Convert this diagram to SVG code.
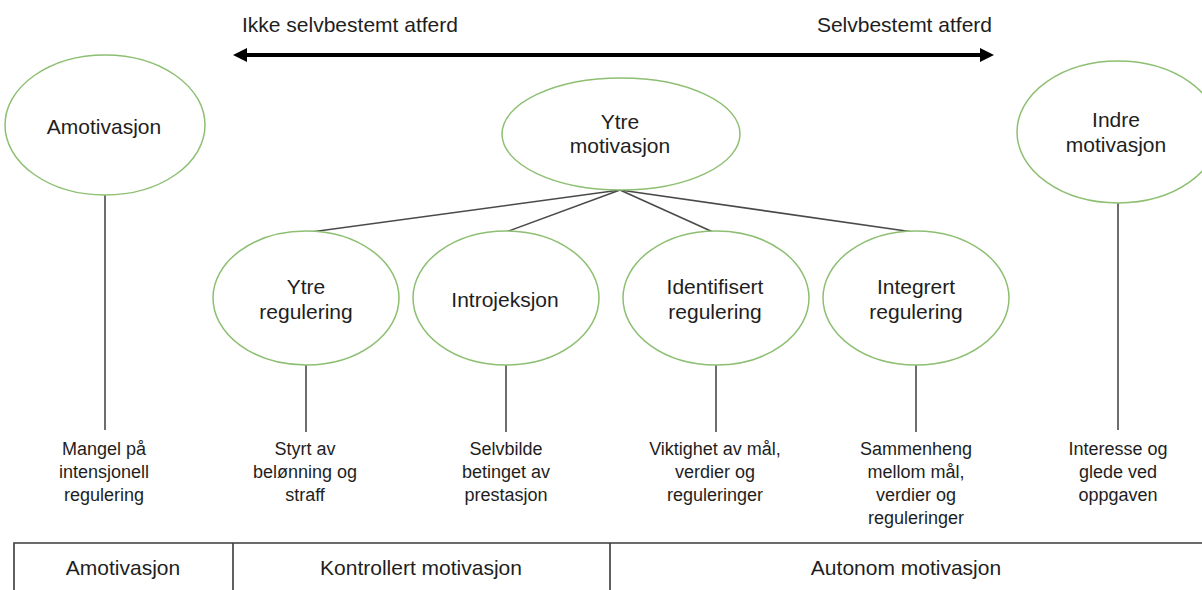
<svg xmlns="http://www.w3.org/2000/svg" width="1202" height="590" viewBox="0 0 1202 590">
<style>
text{font-family:"Liberation Sans",Arial,Helvetica,sans-serif;fill:#1e1e1e;text-anchor:middle}
.n{font-size:21px}
.d{font-size:18px}
.t{font-size:21px;text-anchor:start}
.el{fill:#fff;stroke:#8dbf72;stroke-width:1.5}
.c{stroke:#4a4a4a;stroke-width:1.6;fill:none}
.tb{stroke:#3a3a3a;stroke-width:1.6;fill:none}
</style>
<defs>
<marker id="ah" markerUnits="userSpaceOnUse" markerWidth="14" markerHeight="14" viewBox="0 0 14 14" refX="0" refY="7" orient="auto-start-reverse">
<path d="M0,0 L14,7 L0,14 z" fill="#000"/>
</marker>
</defs>
<rect width="1202" height="590" fill="#fff"/>
<g id="scale">
<text class="t" x="242" y="32">Ikke selvbestemt atferd</text>
<text class="t" x="992" y="32" style="text-anchor:end">Selvbestemt atferd</text>
<line x1="247" y1="55" x2="980" y2="55" stroke="#000" stroke-width="4" marker-start="url(#ah)" marker-end="url(#ah)"/>
</g>
<g id="connectors">
<line class="c" x1="620" y1="190" x2="311" y2="232"/>
<line class="c" x1="620" y1="190" x2="506" y2="232"/>
<line class="c" x1="620" y1="190" x2="713" y2="232"/>
<line class="c" x1="620" y1="190" x2="913" y2="232"/>
<line class="c" x1="105" y1="195" x2="105" y2="430"/>
<line class="c" x1="306" y1="365" x2="306" y2="432"/>
<line class="c" x1="506" y1="365" x2="506" y2="432"/>
<line class="c" x1="716" y1="365" x2="716" y2="432"/>
<line class="c" x1="916" y1="365" x2="916" y2="432"/>
<line class="c" x1="1118" y1="203" x2="1118" y2="430"/>
</g>
<g id="amotivasjon">
<ellipse class="el" cx="105" cy="125" rx="100" ry="70"/>
<text class="n" x="104" y="134">Amotivasjon</text>
</g>
<g id="ytre-motivasjon">
<ellipse class="el" cx="621" cy="134" rx="119" ry="56"/>
<text class="n" x="620" y="129">Ytre</text>
<text class="n" x="620" y="153">motivasjon</text>
</g>
<g id="indre-motivasjon">
<ellipse class="el" cx="1118" cy="132" rx="101" ry="71"/>
<text class="n" x="1116" y="127">Indre</text>
<text class="n" x="1116" y="152">motivasjon</text>
</g>
<g id="ytre-regulering">
<ellipse class="el" cx="306" cy="298" rx="93" ry="67"/>
<text class="n" x="306" y="294">Ytre</text>
<text class="n" x="306" y="319">regulering</text>
</g>
<g id="introjeksjon">
<ellipse class="el" cx="506" cy="298" rx="93" ry="67"/>
<text class="n" x="505" y="307">Introjeksjon</text>
</g>
<g id="identifisert-regulering">
<ellipse class="el" cx="716" cy="298" rx="93" ry="67"/>
<text class="n" x="715" y="294">Identifisert</text>
<text class="n" x="715" y="319">regulering</text>
</g>
<g id="integrert-regulering">
<ellipse class="el" cx="916" cy="298" rx="93" ry="67"/>
<text class="n" x="916" y="294">Integrert</text>
<text class="n" x="916" y="319">regulering</text>
</g>
<g id="desc-amotivasjon">
<text class="d" x="104" y="455">Mangel på</text>
<text class="d" x="104" y="478">intensjonell</text>
<text class="d" x="104" y="501">regulering</text>
</g>
<g id="desc-ytre">
<text class="d" x="305" y="455">Styrt av</text>
<text class="d" x="305" y="478">belønning og</text>
<text class="d" x="305" y="501">straff</text>
</g>
<g id="desc-introjeksjon">
<text class="d" x="506" y="455">Selvbilde</text>
<text class="d" x="506" y="478">betinget av</text>
<text class="d" x="506" y="501">prestasjon</text>
</g>
<g id="desc-identifisert">
<text class="d" x="715" y="455">Viktighet av mål,</text>
<text class="d" x="715" y="478">verdier og</text>
<text class="d" x="715" y="501">reguleringer</text>
</g>
<g id="desc-integrert">
<text class="d" x="916" y="455">Sammenheng</text>
<text class="d" x="916" y="478">mellom mål,</text>
<text class="d" x="916" y="501">verdier og</text>
<text class="d" x="916" y="524">reguleringer</text>
</g>
<g id="desc-indre">
<text class="d" x="1118" y="455">Interesse og</text>
<text class="d" x="1118" y="478">glede ved</text>
<text class="d" x="1118" y="501">oppgaven</text>
</g>
<g id="table">
<path class="tb" d="M14,595 V543 H1205 M233,543 V595 M610,543 V595"/>
<text class="n" x="123" y="575">Amotivasjon</text>
<text class="n" x="421" y="575">Kontrollert motivasjon</text>
<text class="n" x="906" y="575">Autonom motivasjon</text>
</g>
</svg>
